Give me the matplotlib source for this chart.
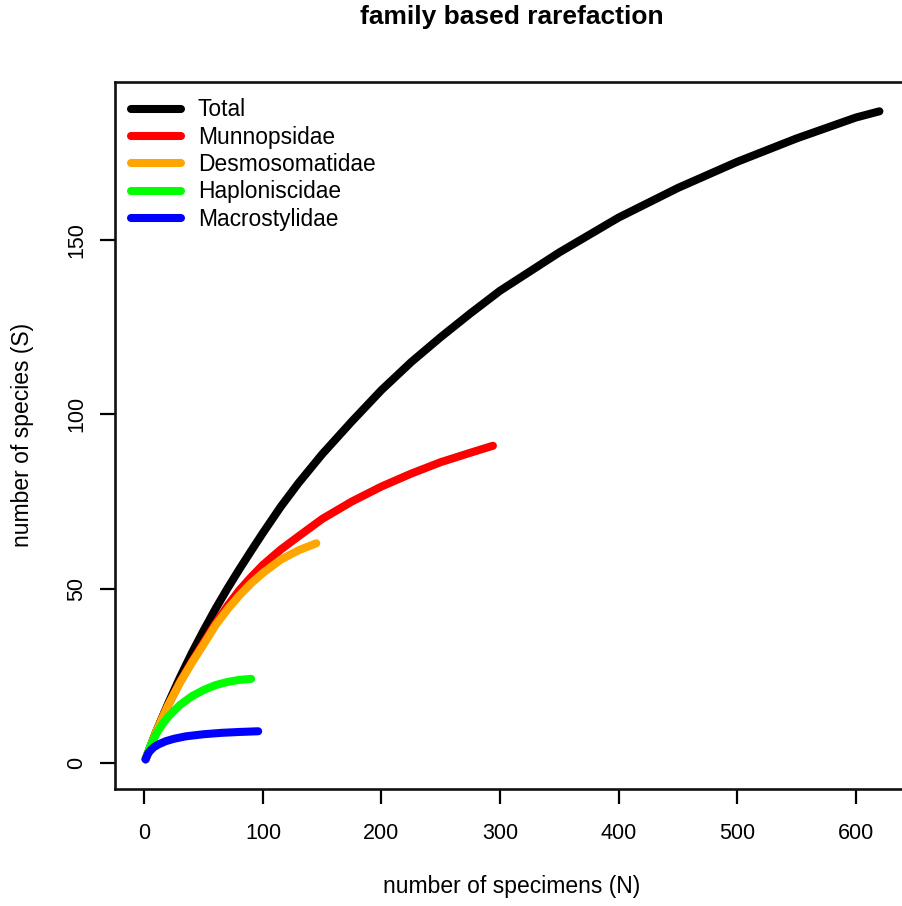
import matplotlib
matplotlib.use("Agg")
import matplotlib.pyplot as plt

plt.rcParams['font.family'] = ['Liberation Sans', 'DejaVu Sans']

# Data
total_n = [1, 10, 20, 30, 40, 50, 60, 70, 80, 90, 100, 115, 130, 150, 175, 200, 225, 250,
           275, 300, 350, 400, 450, 500, 550, 600, 620]
total_s = [1, 9, 17, 24.5, 31.5, 38, 44.2, 50, 55.5, 60.8, 66, 73.5, 80.3, 88.6, 98, 107, 115,
           122.2, 129, 135.5, 146.5, 156.5, 165, 172.5, 179.2, 185.2, 187]

munn_n = [1, 10, 20, 30, 40, 50, 60, 70, 80, 90, 100, 115, 130, 150, 175, 200, 225, 250, 275, 294]
munn_s = [1, 9, 16.5, 23.2, 29, 34.5, 40, 45, 49.5, 53.3, 56.8, 61.2, 65, 70, 75, 79.3, 83, 86.3, 89, 91]

desmo_n = [1, 10, 20, 30, 40, 50, 60, 70, 80, 90, 100, 115, 130, 145]
desmo_s = [1, 9, 16.5, 23, 28.7, 34, 39.5, 44, 48, 51.5, 54.5, 58.3, 61, 63]

haplo_n = [1, 5, 10, 15, 20, 30, 40, 50, 60, 70, 80, 90]
haplo_s = [1, 4.8, 8.3, 11, 13.2, 16.6, 19.1, 20.9, 22.3, 23.2, 23.8, 24.1]

macro_n = [1, 3, 5, 8, 12, 18, 25, 35, 50, 65, 80, 96]
macro_s = [1, 2.6, 3.5, 4.5, 5.3, 6.2, 6.9, 7.6, 8.2, 8.6, 8.85, 9.05]

labels = ["Total", "Munnopsidae", "Desmosomatidae", "Haploniscidae", "Macrostylidae"]
colors = ["#000000", "#FF0000", "#FFA500", "#00FF00", "#0000FF"]
xticks = [0, 100, 200, 300, 400, 500, 600]
yticks = [0, 50, 100, 150]

W, H = 902, 906
fig = plt.figure(figsize=(W / 100, H / 100), dpi=100)
ax_left, ax_right, ax_top, ax_bottom = 115, 908.8, 81.7, 789
ax = fig.add_axes([ax_left / W, 1 - ax_bottom / H, (ax_right - ax_left) / W, (ax_bottom - ax_top) / H])

series = [(total_n, total_s), (munn_n, munn_s), (desmo_n, desmo_s), (haplo_n, haplo_s), (macro_n, macro_s)]
for (n, s), lab, col in zip(series, labels, colors):
    ax.plot(n, s, color=col, lw=5.8, label=lab, solid_capstyle='round', solid_joinstyle='round')

ax.set_xlim(-24.8, 644.8)
ax.set_ylim(-7.52, 195.5)
ax.set_xticks(xticks)
ax.set_yticks(yticks)
ax.set_xticklabels([str(v) for v in xticks])
ax.set_yticklabels([str(v) for v in yticks], rotation=90, va='center')
ax.tick_params(axis='x', length=10.5, width=1.6, pad=14, labelsize=15.5)
ax.tick_params(axis='y', length=10.5, width=1.6, pad=9.5, labelsize=15.5)
for sp in ax.spines.values():
    sp.set_linewidth(1.9)
    sp.set_color('#111111')
ax.spines['right'].set_visible(False)

ax.set_xlabel("number of specimens (N)", fontsize=16.5)
ax.xaxis.label.set_va('center')
ax.xaxis.set_label_coords(0.5, (ax_bottom - 886) / (ax_bottom - ax_top))
ax.set_ylabel("number of species (S)", fontsize=16.5)
ax.yaxis.label.set_va('center')
ax.yaxis.set_label_coords((23 - ax_left) / (ax_right - ax_left), 0.5)

ax.set_title("family based rarefaction", fontsize=19, fontweight='bold',
             y=(ax_bottom - 25) / (ax_bottom - ax_top), va='center')

leg = ax.legend(loc='upper left',
                bbox_to_anchor=((130.7 - ax_left) / (ax_right - ax_left), (ax_bottom - 98.5) / (ax_bottom - ax_top)),
                frameon=False, fontsize=16.4, handlelength=2.2, handletextpad=0.75,
                labelspacing=0.19, borderpad=0, borderaxespad=0)

fig.savefig("out.png", dpi=100)
